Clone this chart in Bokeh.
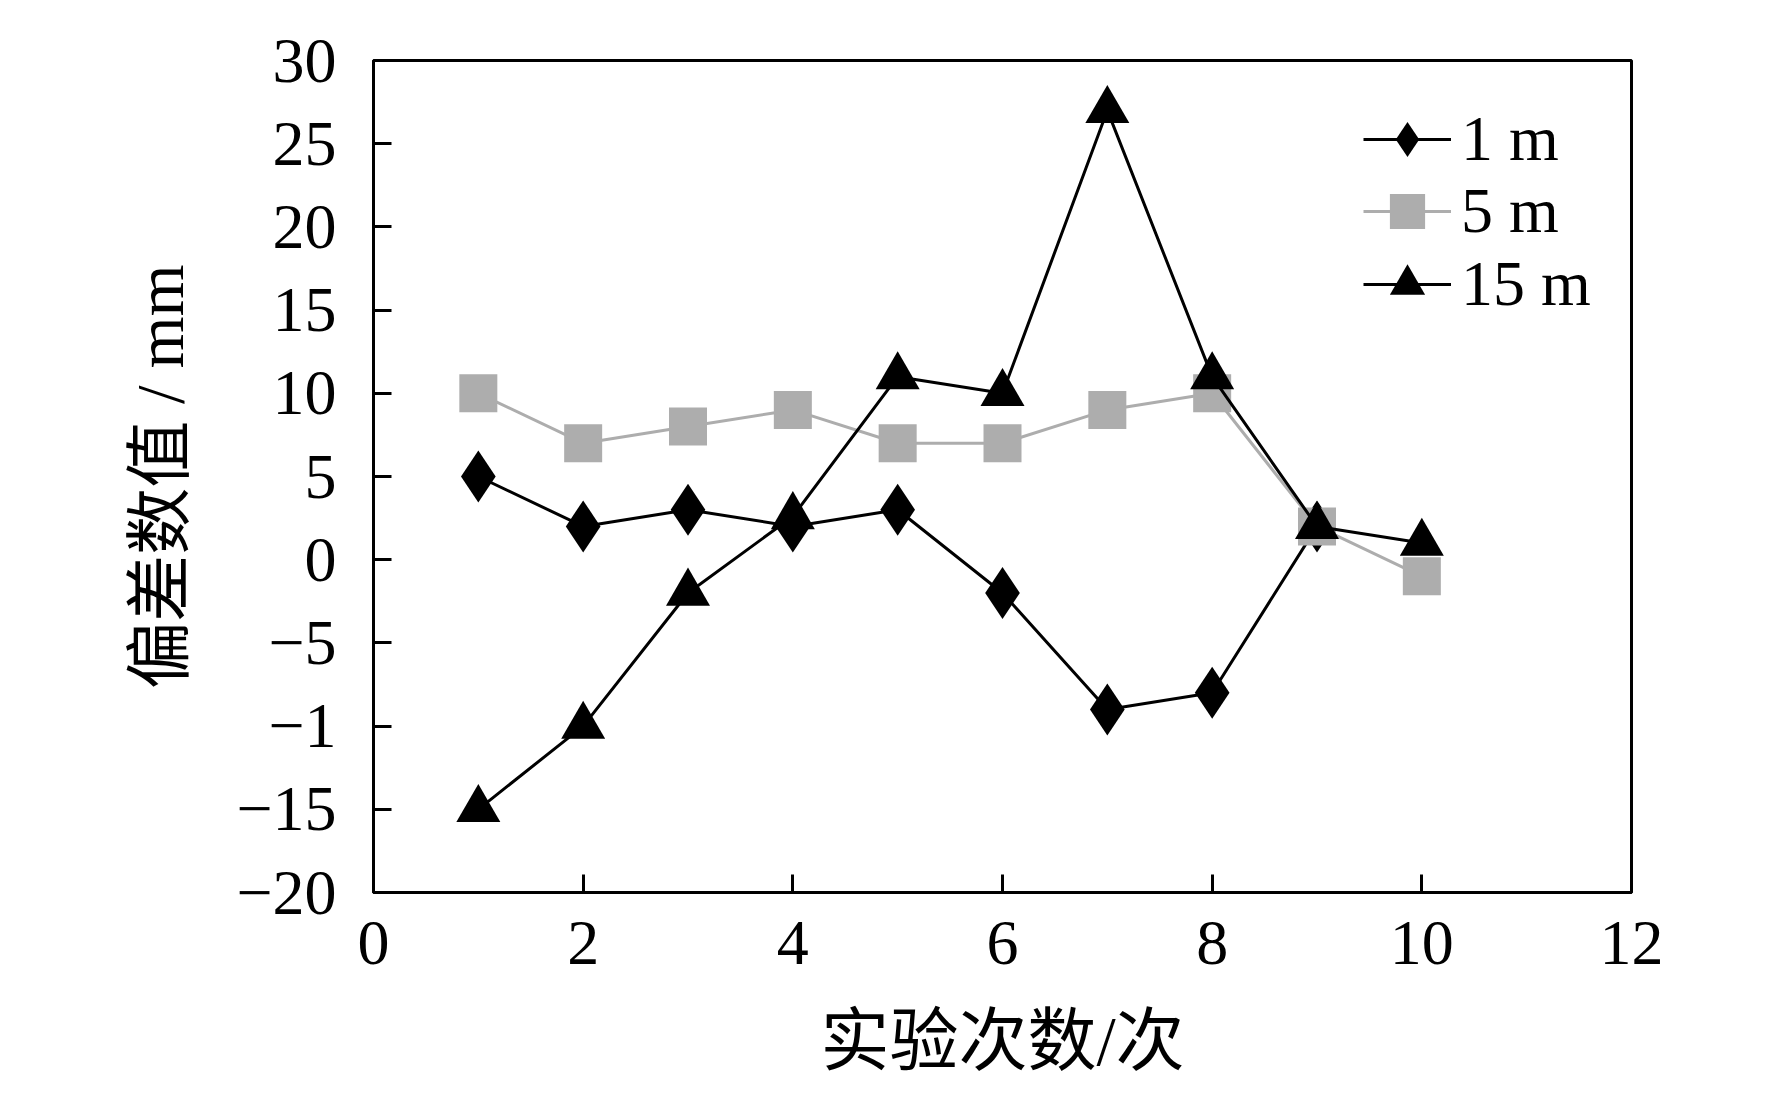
from bokeh.plotting import figure
from bokeh.models import Range1d, FixedTicker, Legend, LegendItem
from bokeh.embed import file_html
from bokeh.resources import INLINE

# ---- data ----
runs_1m = [1, 2, 3, 4, 5, 6, 7, 8, 9]
dev_1m = [5, 2, 3, 2, 3, -2, -9, -8, 2]
runs_5m = [1, 2, 3, 4, 5, 6, 7, 8, 9, 10]
dev_5m = [10, 7, 8, 9, 7, 7, 9, 10, 2, -1]
runs_15m = [1, 2, 3, 4, 5, 6, 7, 8, 9, 10]
dev_15m = [-15, -10, -2, 2.6, 11, 10, 27, 11, 2, 1]
series_names = ["1 m", "5 m", "15 m"]
x_ticks = [0, 2, 4, 6, 8, 10, 12]
y_ticks = [-20, -15, -10, -5, 0, 5, 10, 15, 20, 25, 30]
y_tick_labels = ["\u221220", "\u221215", "\u22121", "\u22125", "0", "5", "10", "15", "20", "25", "30"]
x_title = "实验次数/次"
y_title = "偏差数值 / mm"

SERIF = "'Liberation Serif'"
MIXED = "'Liberation Serif', 'Noto Sans CJK SC'"
GRAY = "#ADADAD"

W, H = 1756, 1094
BL, BR, BT, BB = 373, 125, 60, 202
FRAME_H = H - BT - BB

p = figure(width=W, height=H, output_backend="svg", toolbar_location=None,
           x_range=Range1d(0, 12), y_range=Range1d(-20, 30),
           min_border_left=BL, min_border_right=BR, min_border_top=BT, min_border_bottom=BB)

p.xgrid.visible = False
p.ygrid.visible = False
p.outline_line_color = "black"
p.outline_line_width = 3
p.background_fill_color = "white"
p.border_fill_color = "white"

for ax in (p.xaxis[0], p.yaxis[0]):
    ax.axis_line_width = 3
    ax.axis_line_color = "black"
    ax.major_tick_line_width = 3
    ax.major_tick_line_color = "black"
    ax.major_tick_in = 18
    ax.major_tick_out = 0
    ax.minor_tick_line_color = None
    ax.major_label_text_font = SERIF
    ax.major_label_text_font_size = "64px"
    ax.major_label_text_color = "black"
    ax.axis_label_text_font = MIXED
    ax.axis_label_text_font_style = "normal"
    ax.axis_label_text_color = "black"

p.xaxis[0].ticker = FixedTicker(ticks=x_ticks)
p.yaxis[0].ticker = FixedTicker(ticks=y_ticks)
p.yaxis[0].major_label_overrides = {t: lab for t, lab in zip(y_ticks, y_tick_labels)}
p.xaxis[0].major_label_standoff = 29
p.yaxis[0].major_label_standoff = 37
p.xaxis[0].axis_label = x_title
p.yaxis[0].axis_label = y_title
p.xaxis[0].axis_label_text_font_size = "69px"
p.yaxis[0].axis_label_text_font_size = "67px"
p.xaxis[0].axis_label_standoff = 37
p.yaxis[0].axis_label_standoff = 36

l1 = p.line(runs_1m, dev_1m, line_color="black", line_width=3)
s1 = p.scatter(runs_1m, dev_1m, marker="diamond", size=52, fill_color="black", line_color="black", line_width=0)
l2 = p.line(runs_5m, dev_5m, line_color=GRAY, line_width=3)
s2 = p.scatter(runs_5m, dev_5m, marker="square", size=38, fill_color=GRAY, line_color=GRAY, line_width=0)
l3 = p.line(runs_15m, dev_15m, line_color="black", line_width=3)
s3 = p.scatter(runs_15m, dev_15m, marker="triangle", size=44, fill_color="black", line_color="black", line_width=0)

# one legend per entry so that rows can sit closer than the glyph height
GH = 100
row_centres = [79, 151, 224]  # px below the top of the frame
for name, rends, rc in zip(series_names, [[l1, s1], [l2, s2], [l3, s3]], row_centres):
    lg = Legend(items=[LegendItem(label=name, renderers=rends)],
                location=(990, FRAME_H - (rc + GH // 2)))
    lg.glyph_width = 88
    lg.glyph_height = GH
    lg.padding = 0
    lg.margin = 0
    lg.label_standoff = 10
    lg.label_text_font = SERIF
    lg.label_text_font_size = "64px"
    lg.label_text_color = "black"
    lg.border_line_color = None
    lg.background_fill_alpha = 0
    p.add_layout(lg)

open("out.html", "w").write(file_html(p, INLINE))
